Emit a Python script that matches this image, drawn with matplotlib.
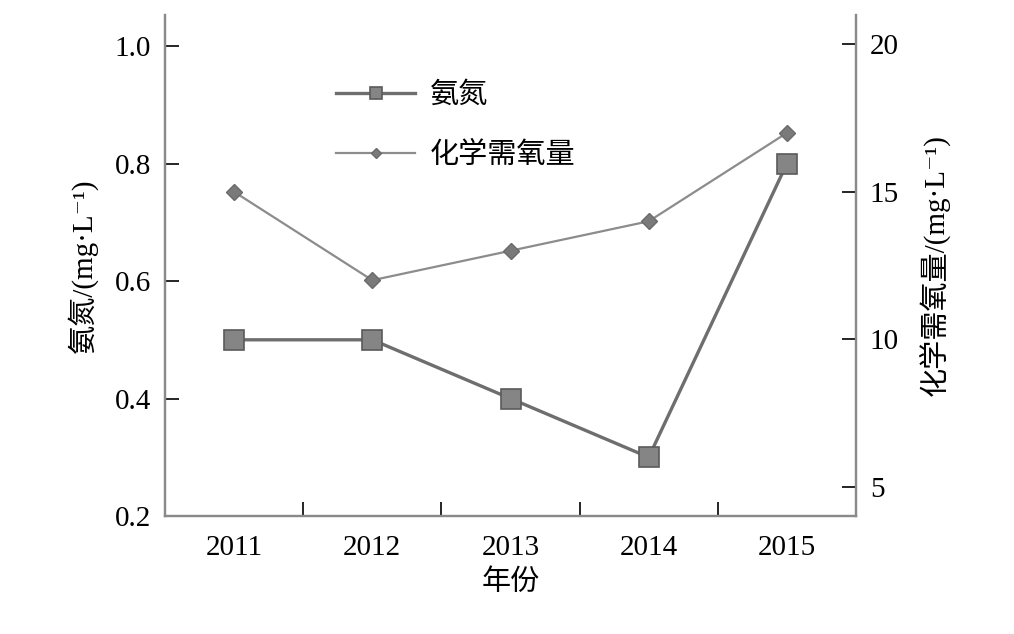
import matplotlib
matplotlib.use("Agg")
import matplotlib.pyplot as plt
from matplotlib.ticker import FixedLocator

plt.rcParams["font.family"] = ["Liberation Serif", "Noto Sans CJK SC", "DejaVu Serif"]

years = ["2011", "2012", "2013", "2014", "2015"]
ammonia = [0.5, 0.5, 0.4, 0.3, 0.8]          # 氨氮, mg/L
cod = [15, 12, 13, 14, 17]                   # 化学需氧量, mg/L

left_ticks = [0.2, 0.4, 0.6, 0.8, 1.0]
right_ticks = [5, 10, 15, 20]

spine_grey = "#8a8a8a"
fs = 21

fig = plt.figure(figsize=(10.14, 6.34), dpi=100)
ax = fig.add_axes([165 / 1014, 1 - 516 / 634, (856 - 165) / 1014, (516 - 15) / 634])
ax2 = ax.twinx()

x = list(range(len(years)))
(l1,) = ax.plot(x, ammonia, color="#6e6e6e", linewidth=2.4, marker="s",
                markersize=15, markerfacecolor="#858585",
                markeredgecolor="#5a5a5a", markeredgewidth=1.2, label="氨氮")
(l2,) = ax2.plot(x, cod, color="#8c8c8c", linewidth=1.6, marker="D",
                 markersize=8, markerfacecolor="#7a7a7a",
                 markeredgecolor="#6a6a6a", label="化学需氧量")

ax.set_xlim(-0.5, len(years) - 0.5)
ax.set_ylim(0.2, 1.053)
ax2.set_ylim(4, 21)

ax.set_xticks(x)
ax.set_xticklabels(years)
ax.tick_params(axis="x", which="major", length=0, pad=14, labelsize=fs)
ax.xaxis.set_minor_locator(FixedLocator([i + 0.5 for i in x[:-1]]))
ax.tick_params(axis="x", which="minor", direction="in", length=10, width=1.2,
               color="black")

ax.set_yticks(left_ticks)
ax.set_yticklabels([f"{v:.1f}" for v in left_ticks])
ax.tick_params(axis="y", direction="in", length=10, width=1.2, pad=10,
               labelsize=fs, color="black")
ax2.set_yticks(right_ticks)
ax2.tick_params(axis="y", direction="in", length=10, width=1.2, pad=10,
                labelsize=fs, color="black")

for a in (ax, ax2):
    a.spines["top"].set_visible(False)
    for s in ("left", "right", "bottom"):
        a.spines[s].set_color(spine_grey)
        a.spines[s].set_linewidth(1.6)

ax.set_xlabel("年份", fontsize=fs, labelpad=6)
ax.set_ylabel("氨氮/(mg·L⁻¹)", fontsize=fs, labelpad=12)
ax2.set_ylabel("化学需氧量/(mg·L⁻¹)", fontsize=fs, rotation=90, labelpad=14)

ax.legend([l1, l2], ["氨氮", "化学需氧量"], loc="upper left",
          bbox_to_anchor=(0.21, 0.918), frameon=False, fontsize=fs,
          handlelength=2.7, handletextpad=0.5, labelspacing=1.13,
          markerscale=0.6)

fig.savefig("out.png", dpi=100)
